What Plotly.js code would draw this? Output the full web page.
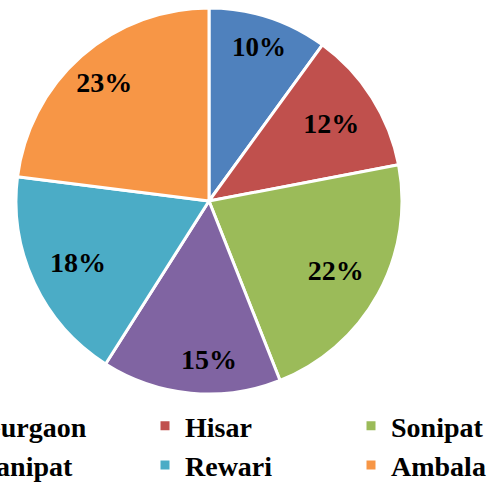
<!DOCTYPE html>
<html>
<head>
<meta charset="utf-8">
<script src="https://cdn.plot.ly/plotly-3.0.1.min.js"></script>
<style>
html,body{margin:0;padding:0;overflow:hidden;background:#fff;width:490px;height:483px;}
#chart{position:absolute;left:-100px;top:0;width:700px;height:483px;}
</style>
</head>
<body>
<div id="chart"></div>
<script>
const labels = ["Gurgaon", "Hisar", "Sonipat", "Panipat", "Rewari", "Ambala"];
const values = [10, 12, 22, 15, 18, 23];
const colors = ["#4F81BD", "#C0504D", "#9BBB59", "#8064A2", "#4BACC6", "#F79646"];

const W = 700, H = 483;
const cx = 309, cy = 201, R = 193;
const dom = {x: [(cx - R) / W, (cx + R) / W], y: [(H - cy - R) / H, (H - cy + R) / H]};
const fontSpec = {family: "Liberation Serif", size: 28, weight: "bold", color: "#000000"};

// colored pie with white separators
const pieFill = {
  type: "pie",
  labels: labels,
  values: values,
  sort: false,
  direction: "clockwise",
  rotation: 0,
  marker: {colors: colors, line: {color: "#ffffff", width: 3}},
  textinfo: "none",
  hoverinfo: "none",
  domain: dom
};

// transparent rings carrying the percentage labels at different radii
function textPie(hole, shown) {
  return {
    type: "pie",
    labels: labels,
    values: values,
    sort: false,
    direction: "clockwise",
    rotation: 0,
    hole: hole,
    showlegend: false,
    marker: {colors: labels.map(() => "rgba(0,0,0,0)"), line: {width: 0}},
    texttemplate: labels.map((l, i) => shown.includes(i) ? "%{percent}" : ""),
    textposition: "inside",
    insidetextorientation: "horizontal",
    textfont: fontSpec,
    hoverinfo: "none",
    domain: dom
  };
}

const layout = {
  width: W, height: H,
  margin: {l: 0, r: 0, t: 0, b: 0, autoexpand: false},
  paper_bgcolor: "#ffffff",
  showlegend: true,
  legend: {
    orientation: "h",
    x: 39 / W, xanchor: "left",
    y: (H - 401) / H, yanchor: "top",
    entrywidth: 161,
    font: fontSpec,
    itemclick: false
  }
};

Plotly.newPlot("chart", [
  pieFill,
  textPie(0.68, [0, 3]),
  textPie(0.5, [1, 2, 4]),
  textPie(0.64, [5])
], layout, {staticPlot: true});
</script>
</body>
</html>
